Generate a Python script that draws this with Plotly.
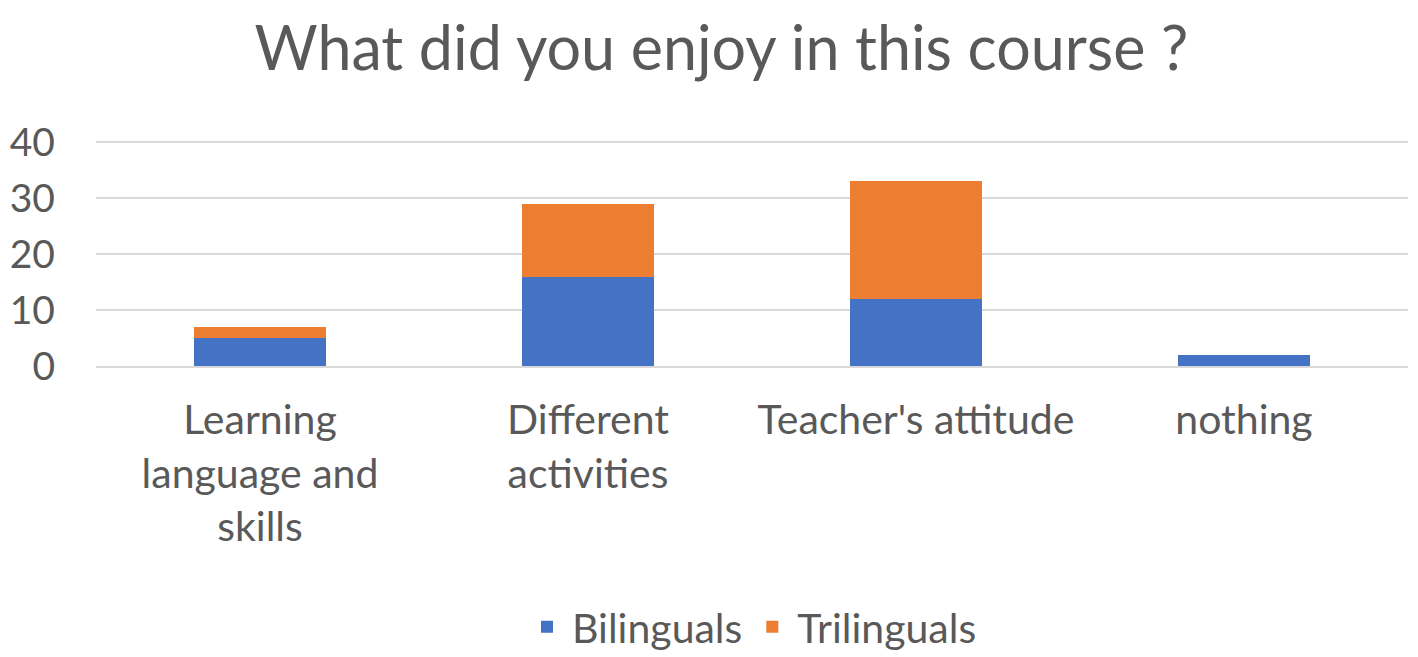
import plotly.graph_objects as go

categories = ["Learning<br>language and<br>skills", "Different<br>activities", "Teacher's attitude", "nothing"]
bilinguals = [5, 16, 12, 2]
trilinguals = [2, 13, 21, 0]
y_ticks = [0, 10, 20, 30, 40]

FONT = "Lato, 'Open Sans', sans-serif"
GRAY = "#595959"

fig = go.Figure()
fig.add_trace(go.Bar(name="Bilinguals", x=categories, y=bilinguals, marker_color="#4472C4",
                     marker_line_width=0))
fig.add_trace(go.Bar(name="Trilinguals", x=categories, y=trilinguals, marker_color="#ED7D31",
                     marker_line_width=0))

fig.update_layout(
    barmode="stack",
    bargap=0.6,
    width=1410, height=649,
    paper_bgcolor="white", plot_bgcolor="white",
    margin=dict(l=88, r=10, t=132, b=291, autoexpand=False),
    title=dict(text="What did you enjoy in this course ?", x=0.506, xanchor="center",
               y=0.938, yanchor="middle",
               font=dict(family=FONT, size=61, color=GRAY)),
    font=dict(family=FONT, color=GRAY, size=41),
    legend=dict(orientation="h", x=0.5, xanchor="center", y=-1.155, yanchor="middle",
                font=dict(size=41, color=GRAY), traceorder="normal", itemwidth=40),
    showlegend=True,
)
fig.update_yaxes(range=[0, 40.4], tickvals=y_ticks, showgrid=True, gridcolor="#d9d9d9",
                 gridwidth=2, zeroline=False, showline=False, ticks="", automargin=False,
                 tickfont=dict(size=39, color=GRAY), ticklabelstandoff=40)
fig.update_xaxes(showline=True, linecolor="#d9d9d9", linewidth=2, ticks="", automargin=False,
                 tickfont=dict(size=41, color=GRAY), ticklabelstandoff=17)

fig.write_html("out.html")
